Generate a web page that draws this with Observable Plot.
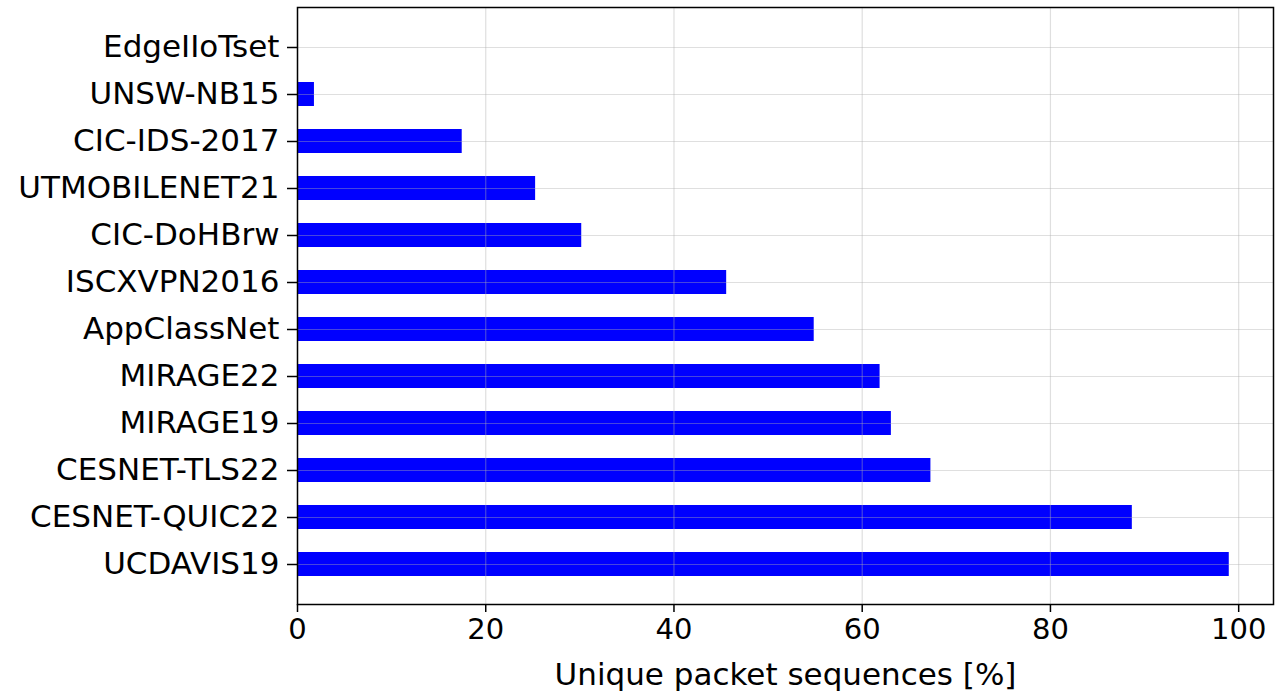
<!DOCTYPE html>
<html>
<head>
<meta charset="utf-8">
<script src="https://cdn.jsdelivr.net/npm/d3@7"></script>
<script src="https://cdn.jsdelivr.net/npm/@observablehq/plot@0.6"></script>
<style>
  html, body { margin: 0; padding: 0; background: #fff; }
</style>
</head>
<body>
<div id="chart"></div>
<script>
const datasets = ["EdgeIIoTset", "UNSW-NB15", "CIC-IDS-2017", "UTMOBILENET21", "CIC-DoHBrw", "ISCXVPN2016", "AppClassNet", "MIRAGE22", "MIRAGE19", "CESNET-TLS22", "CESNET-QUIC22", "UCDAVIS19"];
const uniquePct = [0.0, 1.8, 17.5, 25.3, 30.2, 45.6, 54.9, 61.9, 63.1, 67.3, 88.7, 99.0];
const xTicks = [0, 20, 40, 60, 80, 100];
const xLabel = "Unique packet sequences [%]";

const data = datasets.map((name, i) => ({name, value: uniquePct[i]}));

const chart = Plot.plot({
  width: 1284,
  height: 695,
  marginLeft: 297,
  marginRight: 11,
  marginTop: 7,
  marginBottom: 91,
  style: {fontFamily: "DejaVu Sans", fontSize: "29px", color: "#000", background: "#fff"},
  x: {domain: [0, 103.7]},
  y: {domain: datasets, paddingInner: 0.5, paddingOuter: 0.575, align: 0.5},
  marks: [
    Plot.barX(data, {x: "value", y: "name", fill: "#0000ff"}),
    Plot.gridX({ticks: xTicks, stroke: "#b0b0b0", strokeOpacity: 0.4, strokeWidth: 1.2}),
    Plot.gridY({stroke: "#b0b0b0", strokeOpacity: 0.4, strokeWidth: 1.2}),
    Plot.frame({stroke: "#000", strokeWidth: 1.5}),
    Plot.axisX({ticks: xTicks, tickSize: 8, tickPadding: 6, fontSize: 29, stroke: "#000", strokeWidth: 1.5, label: null}),
    Plot.axisX({ticks: [], tickSize: 0, fontSize: 31, label: xLabel, labelAnchor: "center", labelArrow: "none", labelOffset: 80}),
    Plot.axisY({tickSize: 10, tickPadding: 8, fontSize: 31, stroke: "#000", strokeWidth: 1.5, label: null})
  ]
});
document.getElementById("chart").appendChild(chart);
</script>
</body>
</html>
